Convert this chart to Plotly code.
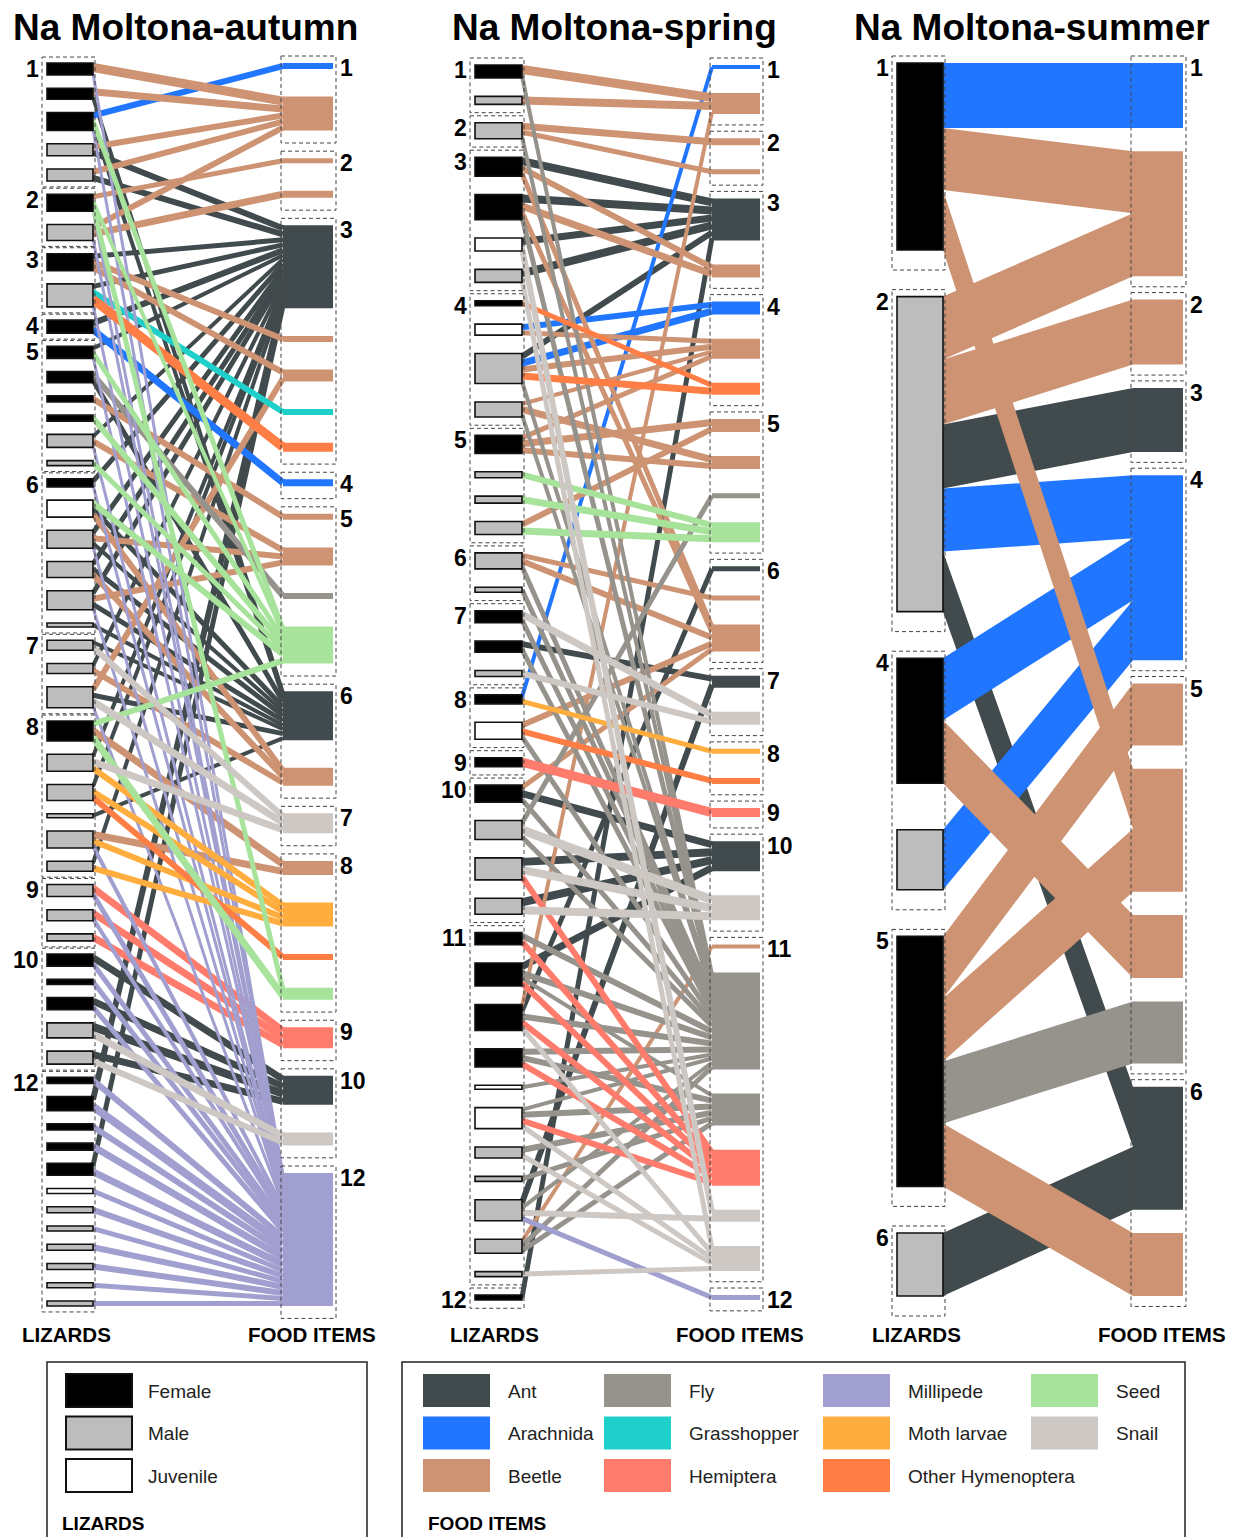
import plotly.graph_objects as go

# ---------------- categories / styles ----------------
FOOD_TYPES = ["Ant", "Arachnida", "Beetle", "Fly", "Grasshopper", "Hemiptera",
              "Millipede", "Moth larvae", "Other Hymenoptera", "Seed", "Snail"]
FOOD_COLORS = ["#414a4c", "#2176ff", "#cd9372", "#96928c", "#1fcfca", "#ff7b6c",
               "#a19fcf", "#ffad3f", "#ff7e45", "#a7e39b", "#cec8c4"]
SEX_CODES = ["F", "M", "J"]
SEX_LABELS = ["Female", "Male", "Juvenile"]
SEX_FILLS = ["#000000", "#bdbdbd", "#ffffff"]
PANEL_TITLES = ["Na Moltona-autumn", "Na Moltona-spring", "Na Moltona-summer"]
COLUMN_TITLES = ["LIZARDS", "FOOD ITEMS"]
LEGEND_TITLES = ["LIZARDS", "FOOD ITEMS"]

# ---------------- autumn ----------------
autumn_lizard_sex = ["F", "F", "F", "M", "M", "F", "M", "F", "M", "F",
                     "F", "F", "F", "F", "M", "M", "F", "J", "M", "M", "M", "M",
                     "M", "M", "M", "F", "M", "M", "M", "M", "M", "M", "M", "M",
                     "F", "F", "F", "M", "M",
                     "F", "F", "F", "F", "F", "J", "M", "M", "M", "M", "M", "M"]
autumn_lizard_group = [1, 1, 1, 1, 1, 2, 2, 3, 3, 4,
                       5, 5, 5, 5, 5, 5, 6, 6, 6, 6, 6, 6,
                       7, 7, 7, 8, 8, 8, 8, 8, 8, 9, 9, 9,
                       10, 10, 10, 10, 10,
                       12, 12, 12, 12, 12, 12, 12, 12, 12, 12, 12, 12]
autumn_food_type = ["Arachnida", "Beetle", "Beetle", "Beetle", "Ant", "Beetle", "Beetle",
                    "Grasshopper", "Other Hymenoptera", "Arachnida", "Beetle", "Beetle",
                    "Fly", "Seed", "Ant", "Beetle", "Snail", "Beetle", "Moth larvae",
                    "Other Hymenoptera", "Seed", "Hemiptera", "Ant", "Snail", "Millipede"]
autumn_food_group = [1, 1, 2, 2, 3, 3, 3, 3, 3, 4, 5, 5, 5, 5, 6, 6, 7, 8, 8, 8, 8, 9, 10, 10, 12]
# (lizard number, food number, link weight)
autumn_links = [
    (3, 1, 6),
    (1, 2, 9), (2, 2, 7), (4, 2, 6), (5, 2, 6), (7, 2, 6),
    (6, 3, 5), (7, 4, 7),
    (4, 5, 6), (5, 5, 6), (8, 5, 5), (9, 5, 5), (10, 5, 6), (11, 5, 4), (15, 5, 4),
    (17, 5, 5), (19, 5, 5), (20, 5, 5), (21, 5, 5), (24, 5, 4), (27, 5, 4), (28, 5, 4),
    (31, 5, 4), (41, 5, 6), (44, 5, 5),
    (8, 6, 6), (8, 7, 6), (25, 7, 6), (9, 8, 6), (9, 9, 9), (10, 10, 7),
    (13, 11, 6), (15, 12, 6), (19, 12, 6), (21, 12, 6), (12, 13, 6),
    (3, 14, 5), (6, 14, 4), (11, 14, 5), (14, 14, 6), (16, 14, 5), (18, 14, 6), (26, 14, 6),
    (2, 15, 4), (3, 15, 4), (12, 15, 5), (18, 15, 5), (19, 15, 4), (20, 15, 5), (21, 15, 5),
    (22, 15, 4), (23, 15, 4), (25, 15, 5), (29, 15, 4),
    (18, 16, 6), (20, 16, 6), (24, 16, 6),
    (23, 17, 6), (25, 17, 7), (27, 17, 7),
    (26, 18, 7), (30, 18, 7),
    (27, 19, 6), (28, 19, 6), (30, 19, 6), (31, 19, 6),
    (28, 20, 6), (6, 21, 5), (26, 21, 7),
    (32, 22, 7), (33, 22, 7), (34, 22, 7),
    (35, 23, 7), (37, 23, 7), (38, 23, 8), (39, 23, 7),
    (38, 24, 7), (39, 24, 6),
    (1, 25, 3), (3, 25, 3), (6, 25, 3), (7, 25, 3), (9, 25, 3), (11, 25, 3), (15, 25, 3),
    (17, 25, 3), (19, 25, 3), (21, 25, 3), (25, 25, 3), (30, 25, 4), (32, 25, 5), (33, 25, 4),
    (35, 25, 5), (36, 25, 5), (37, 25, 5), (40, 25, 6), (41, 25, 8), (42, 25, 6), (43, 25, 7),
    (44, 25, 7), (45, 25, 5), (46, 25, 6), (47, 25, 5), (48, 25, 6), (49, 25, 6), (50, 25, 5),
    (51, 25, 5),
]

# ---------------- spring ----------------
spring_lizard_sex = ["F", "M", "M", "F", "F", "J", "M", "F", "J", "M", "M",
                     "F", "M", "M", "M", "M", "M", "F", "F", "M", "F", "J", "F",
                     "F", "M", "M", "M",
                     "F", "F", "F", "F", "J", "J", "M", "M", "M", "M", "M", "F"]
spring_lizard_group = [1, 1, 2, 3, 3, 3, 3, 4, 4, 4, 4,
                       5, 5, 5, 5, 6, 6, 7, 7, 7, 8, 8, 9,
                       10, 10, 10, 10,
                       11, 11, 11, 11, 11, 11, 11, 11, 11, 11, 11, 12]
spring_food_type = ["Arachnida", "Beetle", "Beetle", "Beetle", "Ant", "Beetle", "Arachnida",
                    "Beetle", "Other Hymenoptera", "Beetle", "Beetle", "Fly", "Seed", "Ant",
                    "Beetle", "Beetle", "Ant", "Snail", "Moth larvae", "Other Hymenoptera",
                    "Hemiptera", "Ant", "Snail", "Beetle", "Fly", "Fly", "Hemiptera", "Snail",
                    "Snail", "Millipede"]
spring_food_group = [1, 1, 2, 2, 3, 3, 4, 4, 4, 5, 5, 5, 5, 6, 6, 6, 7, 7, 8, 8, 9, 10, 10,
                     11, 11, 11, 11, 11, 11, 12]
spring_links = [
    (21, 1, 4),
    (1, 2, 9), (2, 2, 8), (30, 2, 4),
    (3, 3, 7), (3, 4, 5),
    (4, 5, 8), (5, 5, 8), (6, 5, 7), (7, 5, 8), (10, 5, 6), (39, 5, 5),
    (4, 6, 6), (5, 6, 7),
    (9, 7, 6), (10, 7, 7),
    (9, 8, 5), (10, 8, 6), (11, 8, 4), (12, 8, 5),
    (8, 9, 5), (10, 9, 7),
    (12, 10, 7), (15, 10, 6),
    (11, 11, 7), (12, 11, 6),
    (25, 12, 5),
    (13, 13, 6), (14, 13, 7), (15, 13, 7),
    (30, 14, 5), (16, 15, 5),
    (4, 16, 5), (5, 16, 5), (16, 16, 6), (22, 16, 6), (24, 16, 5),
    (19, 17, 6), (36, 17, 6),
    (18, 18, 7), (20, 18, 6),
    (21, 19, 5), (22, 20, 6), (23, 21, 9),
    (24, 22, 7), (26, 22, 8), (27, 22, 8), (29, 22, 7),
    (25, 23, 9), (26, 23, 8), (27, 23, 8),
    (37, 24, 4),
    (1, 25, 4), (3, 25, 4), (5, 25, 5), (10, 25, 4), (11, 25, 4), (16, 25, 5), (17, 25, 5),
    (18, 25, 5), (19, 25, 5), (22, 25, 5), (24, 25, 5), (25, 25, 5), (28, 25, 6), (29, 25, 6),
    (30, 25, 6), (31, 25, 6), (32, 25, 4), (33, 25, 4), (36, 25, 4), (37, 25, 5),
    (29, 26, 4), (31, 26, 6), (33, 26, 6), (34, 26, 6), (35, 26, 5), (37, 26, 5),
    (26, 27, 6), (28, 27, 6), (29, 27, 6), (30, 27, 6), (31, 27, 6), (33, 27, 6),
    (6, 28, 6), (36, 28, 6),
    (7, 29, 5), (30, 29, 5), (33, 29, 5), (34, 29, 5), (38, 29, 5),
    (36, 30, 5),
]

# ---------------- summer ----------------
summer_lizard_sex = ["F", "M", "F", "M", "F", "M"]
summer_lizard_group = [1, 2, 4, 4, 5, 6]
summer_food_type = ["Arachnida", "Beetle", "Beetle", "Ant", "Arachnida", "Beetle", "Beetle",
                    "Beetle", "Fly", "Ant", "Beetle"]
summer_food_group = [1, 1, 2, 3, 4, 5, 5, 5, 5, 6, 6]
summer_links = [
    (1, 1, 65), (1, 2, 62), (1, 7, 60),
    (2, 2, 63), (2, 3, 65), (2, 4, 64), (2, 5, 63), (2, 10, 60),
    (3, 5, 62), (3, 8, 63), (4, 5, 60),
    (5, 6, 62), (5, 7, 63), (5, 9, 62), (5, 11, 63),
    (6, 10, 63),
]

# ---------------- layout constants (pixels) ----------------
W, H = 1235, 1537
PANELS = [
    dict(sex=autumn_lizard_sex, lgrp=autumn_lizard_group, ftype=autumn_food_type,
         fgrp=autumn_food_group, links=autumn_links, xl=(47, 93), xf=(283, 333),
         top=63, bottom=1306, title_x=185, mode="stroke"),
    dict(sex=spring_lizard_sex, lgrp=spring_lizard_group, ftype=spring_food_type,
         fgrp=spring_food_group, links=spring_links, xl=(475, 522), xf=(712, 760),
         top=65, bottom=1300, title_x=614, mode="stroke"),
    dict(sex=summer_lizard_sex, lgrp=summer_lizard_group, ftype=summer_food_type,
         fgrp=summer_food_group, links=summer_links, xl=(897, 943), xf=(1133, 1183),
         top=63, bottom=1296, title_x=1032, mode="band"),
]
FONT = "Liberation Sans, Arial, sans-serif"
color_of = dict(zip(FOOD_TYPES, FOOD_COLORS))
fill_of = dict(zip(SEX_CODES, SEX_FILLS))

fig = go.Figure()
shapes = []
annotations = []


def stack(sizes, top, bottom):
    n = len(sizes)
    gap = (bottom - top - sum(sizes)) / (n - 1) if n > 1 else 0
    pos, y = [], top
    for s in sizes:
        pos.append((y, y + s))
        y += s + gap
    return pos, gap


def group_boxes(groups, pos, gap, x0, x1, label_side):
    order = []
    for g in groups:
        if g not in order:
            order.append(g)
    padt = min(0.45 * gap, 7)
    padb = min(0.45 * gap, 20)
    for g in order:
        idx = [i for i, gg in enumerate(groups) if gg == g]
        y0 = min(pos[i][0] for i in idx) - padt
        y1 = max(pos[i][1] for i in idx) + padb
        shapes.append(dict(type="rect", xref="x", yref="y", x0=x0, x1=x1, y0=y0, y1=y1,
                           line=dict(color="#444444", width=1, dash="4px,3px"),
                           fillcolor="rgba(0,0,0,0)", layer="above"))
        if label_side == "left":
            annotations.append(dict(x=x0 - 1, y=y0 + 12, xref="x", yref="y", text="<b>%s</b>" % g,
                                    showarrow=False, xanchor="right", yanchor="middle",
                                    font=dict(family=FONT, size=23, color="black")))
        else:
            annotations.append(dict(x=x1 + 2, y=y0 + 12, xref="x", yref="y", text="<b>%s</b>" % g,
                                    showarrow=False, xanchor="left", yanchor="middle",
                                    font=dict(family=FONT, size=23, color="black")))


for pi, p in enumerate(PANELS):
    links = p["links"]
    nL, nF = len(p["sex"]), len(p["ftype"])
    lsize = [0.0] * nL
    fsize = [0.0] * nF
    for a, b, w in links:
        lsize[a - 1] += w
        fsize[b - 1] += w
    lsize = [s if s > 0 else 3 for s in lsize]
    fsize = [s if s > 0 else 3 for s in fsize]
    lpos, lgap = stack(lsize, p["top"], p["bottom"])
    fpos, fgap = stack(fsize, p["top"], p["bottom"])

    lseg, fseg = {}, {}
    cur = [q[0] for q in lpos]
    for k in sorted(range(len(links)), key=lambda k: (links[k][0], links[k][1])):
        a, b, w = links[k]
        lseg[k] = (cur[a - 1], cur[a - 1] + w)
        cur[a - 1] += w
    cur = [q[0] for q in fpos]
    for k in sorted(range(len(links)), key=lambda k: (links[k][1], links[k][0])):
        a, b, w = links[k]
        fseg[k] = (cur[b - 1], cur[b - 1] + w)
        cur[b - 1] += w

    xa, xb = p["xl"][1], p["xf"][0]
    if p["mode"] == "band":
        for t in FOOD_TYPES:
            xs, ys = [], []
            for k, (a, b, w) in enumerate(links):
                if p["ftype"][b - 1] != t:
                    continue
                (ya0, ya1), (yb0, yb1) = lseg[k], fseg[k]
                xs += [xa, xb, xb, xa, xa, None]
                ys += [ya0, yb0, yb1, ya1, ya0, None]
            if xs:
                fig.add_trace(go.Scatter(x=xs, y=ys, mode="lines", fill="toself",
                                         fillcolor=color_of[t],
                                         line=dict(width=0, color=color_of[t]),
                                         hoverinfo="skip", showlegend=False))
    else:
        for t in FOOD_TYPES:
            for k, (a, b, w) in enumerate(links):
                if p["ftype"][b - 1] != t:
                    continue
                ya = (lseg[k][0] + lseg[k][1]) / 2
                yb = (fseg[k][0] + fseg[k][1]) / 2
                fig.add_trace(go.Scatter(x=[xa, xb], y=[ya, yb], mode="lines",
                                         line=dict(width=w, color=color_of[t]),
                                         hoverinfo="skip", showlegend=False))

    # lizard nodes
    for i, s in enumerate(p["sex"]):
        shapes.append(dict(type="rect", xref="x", yref="y", x0=p["xl"][0], x1=p["xl"][1],
                           y0=lpos[i][0], y1=lpos[i][1], fillcolor=fill_of[s],
                           line=dict(color="#111111", width=1.6), layer="above"))
    # food nodes
    for j, t in enumerate(p["ftype"]):
        shapes.append(dict(type="rect", xref="x", yref="y", x0=p["xf"][0], x1=p["xf"][1],
                           y0=fpos[j][0], y1=fpos[j][1], fillcolor=color_of[t],
                           line=dict(width=0), layer="above"))
    group_boxes(p["lgrp"], lpos, lgap, p["xl"][0] - 5, p["xl"][1] + 2, "left")
    group_boxes(p["fgrp"], fpos, fgap, p["xf"][0] - 2, p["xf"][1] + 3, "right")

    annotations.append(dict(x=p["title_x"], y=27, xref="x", yref="y",
                            text="<b>%s</b>" % PANEL_TITLES[pi], showarrow=False,
                            xanchor="center", yanchor="middle",
                            font=dict(family=FONT, size=37, color="black")))
    annotations.append(dict(x=(p["xl"][0] + p["xl"][1]) / 2 - 4, y=1334, xref="x", yref="y",
                            text="<b>%s</b>" % COLUMN_TITLES[0], showarrow=False,
                            xanchor="center", yanchor="middle",
                            font=dict(family=FONT, size=20.5, color="black")))
    annotations.append(dict(x=(p["xf"][0] + p["xf"][1]) / 2 + 4, y=1334, xref="x", yref="y",
                            text="<b>%s</b>" % COLUMN_TITLES[1], showarrow=False,
                            xanchor="center", yanchor="middle",
                            font=dict(family=FONT, size=20.5, color="black")))

# ---------------- legends ----------------
LEG_TOP = 1362
shapes.append(dict(type="rect", xref="x", yref="y", x0=47, x1=367, y0=LEG_TOP, y1=1580,
                   line=dict(color="#222222", width=1.5), fillcolor="rgba(0,0,0,0)"))
shapes.append(dict(type="rect", xref="x", yref="y", x0=402, x1=1185, y0=LEG_TOP, y1=1580,
                   line=dict(color="#222222", width=1.5), fillcolor="rgba(0,0,0,0)"))
ROW_Y = [1374, 1416.5, 1459]
for i, (lab, fc) in enumerate(zip(SEX_LABELS, SEX_FILLS)):
    y0 = ROW_Y[i]
    shapes.append(dict(type="rect", xref="x", yref="y", x0=66, x1=132, y0=y0, y1=y0 + 33,
                       fillcolor=fc, line=dict(color="#111111", width=2)))
    annotations.append(dict(x=146, y=y0 + 17, xref="x", yref="y", text=lab, showarrow=False,
                            xanchor="left", yanchor="middle",
                            font=dict(family=FONT, size=19, color="#222222")))
COL_X = [423, 604, 823, 1031]
for i, (lab, fc) in enumerate(zip(FOOD_TYPES, FOOD_COLORS)):
    c, r = i // 3, i % 3
    x0, y0 = COL_X[c], ROW_Y[r]
    shapes.append(dict(type="rect", xref="x", yref="y", x0=x0, x1=x0 + 67, y0=y0, y1=y0 + 33,
                       fillcolor=fc, line=dict(width=0)))
    annotations.append(dict(x=x0 + 83, y=y0 + 17, xref="x", yref="y", text=lab, showarrow=False,
                            xanchor="left", yanchor="middle",
                            font=dict(family=FONT, size=19, color="#222222")))
annotations.append(dict(x=60, y=1523, xref="x", yref="y", text="<b>%s</b>" % LEGEND_TITLES[0],
                        showarrow=False, xanchor="left", yanchor="middle",
                        font=dict(family=FONT, size=19, color="black")))
annotations.append(dict(x=426, y=1523, xref="x", yref="y", text="<b>%s</b>" % LEGEND_TITLES[1],
                        showarrow=False, xanchor="left", yanchor="middle",
                        font=dict(family=FONT, size=19, color="black")))

fig.update_layout(
    width=W, height=H, margin=dict(l=0, r=0, t=0, b=0),
    paper_bgcolor="white", plot_bgcolor="white",
    xaxis=dict(range=[0, W], visible=False, fixedrange=True),
    yaxis=dict(range=[H, 0], visible=False, fixedrange=True),
    shapes=shapes, annotations=annotations, showlegend=False,
)
fig.write_html("out.html", config={"displayModeBar": False},
               post_script="document.body.style.margin='0px';")
